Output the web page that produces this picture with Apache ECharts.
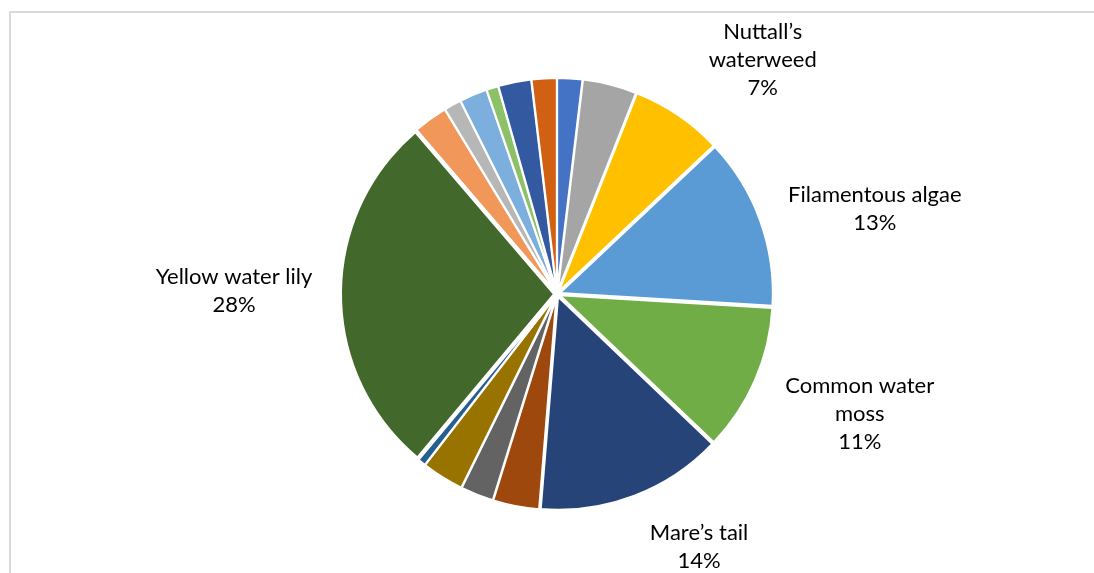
<!DOCTYPE html>
<html>
<head>
<meta charset="utf-8">
<script src="https://cdn.jsdelivr.net/npm/echarts@6/dist/echarts.min.js"></script>
<style>
  html, body { margin: 0; padding: 0; background: #fff; }
  #frame { position: absolute; left: 9px; top: 11px; width: 1085px; height: 562px;
           border-top: 2px solid #d9d9d9; border-left: 2px solid #d9d9d9; box-sizing: border-box; }
  #chart { position: absolute; left: 0; top: 0; width: 1094px; height: 573px; }
</style>
</head>
<body>
<div id="frame"></div>
<div id="chart"></div>
<script>
// Slice names (clockwise from 12 o'clock); unlabeled minor species are placeholders
const categories = [
  'Species A', 'Species B', 'Nuttall’s waterweed', 'Filamentous algae', 'Common water moss',
  'Mare’s tail', 'Species C', 'Species D', 'Species E', 'Species F',
  'Yellow water lily', 'Species G', 'Species H', 'Species I', 'Species J',
  'Species K', 'Species L'
];
const values = [1.9, 4.1, 7.0, 13.0, 11.2, 14.2, 3.5, 2.5, 3.2, 0.6, 27.7, 2.6, 1.3, 2.1, 0.9, 2.5, 1.9];
const colors = ['#4472C4', '#A5A5A5', '#FFC000', '#5B9BD5', '#70AD47', '#264478', '#9E480E', '#636363',
  '#997300', '#255E91', '#43682B', '#F1975A', '#B7B7B7', '#7CAFDD', '#8CC168', '#335AA1', '#D26012'];
const labeled = ['Nuttall’s waterweed', 'Filamentous algae', 'Common water moss', 'Mare’s tail', 'Yellow water lily'];
const labelText = {
  'Nuttall’s waterweed': 'Nuttall’s\nwaterweed',
  'Filamentous algae': 'Filamentous algae',
  'Common water moss': 'Common water\nmoss',
  'Mare’s tail': 'Mare’s tail',
  'Yellow water lily': 'Yellow water lily'
};

// label block centers (layout)
const labelLayoutPos = {
  'Nuttall’s waterweed': [761, 62],
  'Filamentous algae': [872, 210],
  'Common water moss': [857, 413],
  'Mare’s tail': [698, 544],
  'Yellow water lily': [237, 291]
};

const total = values.reduce((a, b) => a + b, 0);
const data = categories.map((name, i) => ({
  name: name,
  value: values[i],
  selected: true,
  itemStyle: { color: colors[i] },
  label: { show: labeled.indexOf(name) >= 0 }
}));

const chart = echarts.init(document.getElementById('chart'), null, { renderer: 'canvas' });
chart.setOption({
  animation: false,
  backgroundColor: 'transparent',
  series: [{
    type: 'pie',
    center: [557, 294],
    radius: [0, 213],
    startAngle: 90,
    clockwise: true,
    selectedMode: 'multiple',
    selectedOffset: 3,
    avoidLabelOverlap: false,
    itemStyle: { borderColor: '#ffffff', borderWidth: 2 },
    emphasis: { disabled: true },
    label: {
      position: 'outside',
      fontFamily: 'Lato',
      fontSize: 22,
      lineHeight: 28,
      color: '#000000',
      formatter: function (p) {
        return labelText[p.name] + '\n' + Math.round(p.value / total * 100) + '%';
      }
    },
    labelLine: { show: false },
    labelLayout: function (p) {
      const name = categories[p.dataIndex];
      const pos = labelLayoutPos[name];
      if (!pos) return {};
      const r = p.labelRect;
      let anchorX = r.x;
      if (p.align === 'right') anchorX = r.x + r.width;
      else if (p.align === 'center') anchorX = r.x + r.width / 2;
      return { dx: pos[0] - anchorX, dy: pos[1] - (r.y + r.height / 2), align: 'center' };
    },
    data: data
  }]
});
</script>
</body>
</html>
